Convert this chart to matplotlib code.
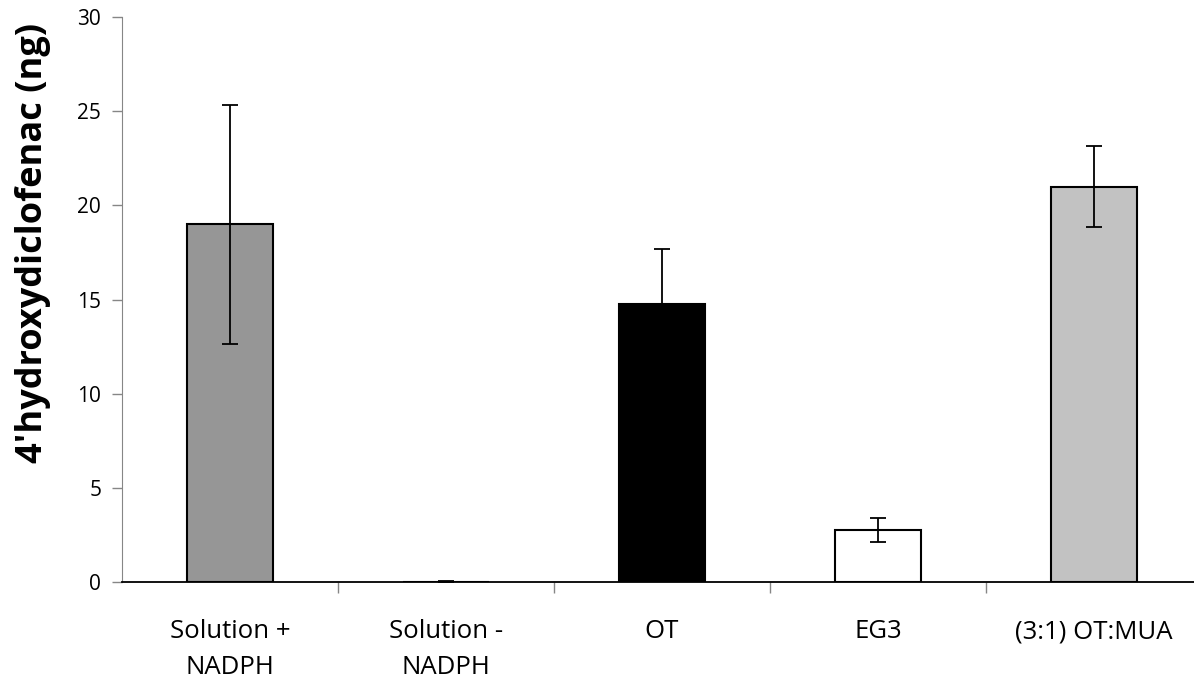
import matplotlib.pyplot as plt
import numpy as np

categories = ["Solution +\nNADPH", "Solution -\nNADPH", "OT", "EG3", "(3:1) OT:MUA"]
values = [19.0, 0.0, 14.75, 2.75, 21.0]
errors = [6.35, 0.05, 2.95, 0.65, 2.15]
colors = ["#969696", "#303030", "#000000", "#ffffff", "#c2c2c2"]

plt.rcParams["font.family"] = ["Open Sans", "DejaVu Sans"]

fig = plt.figure(figsize=(11.94, 6.88), dpi=100)
ax = fig.add_axes([122 / 1194, 106 / 688, 1080 / 1194, 565 / 688])

x = np.arange(len(categories))
ax.bar(x, values, width=0.4, color=colors, edgecolor="black", linewidth=1.5,
       zorder=2)
ax.errorbar(x, values, yerr=errors, fmt="none", ecolor="black",
            elinewidth=1.3, capsize=5.5, capthick=1.3, zorder=3)

ax.set_xlim(-0.5, len(categories) - 0.5)
ax.set_ylim(0, 30)
ax.set_yticks(np.arange(0, 31, 5))
ax.tick_params(axis="y", direction="out", length=7, width=1, color="#868686",
               labelsize=15, pad=8)

# boundary ticks as major, labels as minor at category centres
ax.set_xticks(np.arange(0.5, len(categories) - 0.5, 1))
ax.set_xticklabels([])
ax.set_xticks(x, minor=True)
ax.set_xticklabels(categories, minor=True, fontsize=18.5, linespacing=1.55)
ax.tick_params(axis="x", which="major", direction="out", length=8, width=1,
               color="#868686")
ax.tick_params(axis="x", which="minor", length=0, pad=27)

ax.set_ylabel("4'hydroxydiclofenac (ng)", fontsize=26, fontweight="bold")
ax.yaxis.set_label_coords(-0.066, 0.6)

for side in ["top", "right"]:
    ax.spines[side].set_visible(False)
ax.spines["left"].set_color("#868686")
ax.spines["bottom"].set_color("black")
ax.spines["bottom"].set_linewidth(1.3)

fig.savefig("out.png", dpi=100)
